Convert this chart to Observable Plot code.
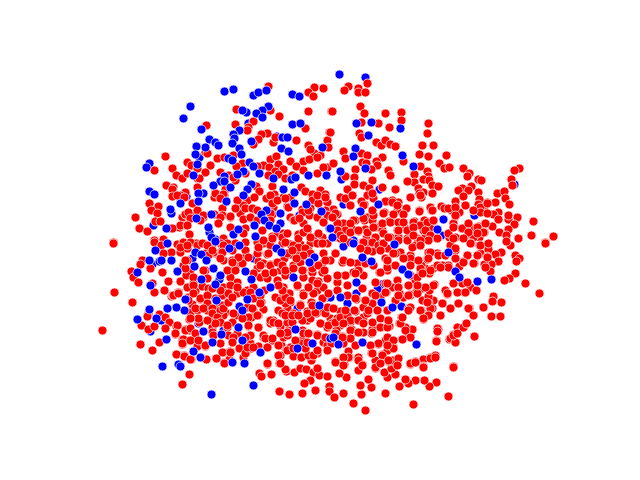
<!DOCTYPE html>
<html><head><meta charset="utf-8">
<style>html,body{margin:0;padding:0;background:#fff}svg{display:block}</style>
<script src="https://cdn.jsdelivr.net/npm/d3@7"></script>
<script src="https://cdn.jsdelivr.net/npm/@observablehq/plot@0.6"></script>
</head><body><div id="chart"></div>
<script>
const blueBehind = [[246,112],[276,136],[248,123],[199,157],[186,196],[171,213],[153,225],[280,223],[299,215],[343,204],[341,179],[379,189],[514,184],[474,215],[441,235],[353,240],[343,246],[149,163],[209,232],[215,239],[192,258],[152,264],[159,261],[253,258],[219,279],[198,323],[161,320],[150,331],[223,330],[297,308],[327,297],[178,364],[381,284],[377,289],[356,293],[347,303],[401,306],[330,297],[365,77]];
const red = [
[268,86],[314,87],[323,88],[308,92],[313,96],[236,109],[270,110],[279,116],[308,111],[331,111],[253,121],[235,124],[206,125],[248,127],[247,130],[305,128],[267,133],[261,134],[258,139],[273,142],[253,144],[296,140],[275,137],[329,132],[327,140],[308,145],[314,153],[310,149],[320,155],[328,147],[205,152],[207,153],[165,156],[217,158],[224,157],[233,155],[270,159],[276,156],[290,161],[303,161],[309,159],[317,157],[187,162],[191,165],[197,168],[210,165],[242,163],[236,166],[263,165],[257,166],[278,164],[269,167],[283,169],[275,171],[296,166],[327,167],[154,170],[172,168],[176,175],[182,178],[187,173],[205,172],[197,178],[199,178],[220,172],[228,175],[245,173],[235,180],[233,177],[268,175],[278,174],[285,178],[292,175],[303,170],[317,173],[323,167],[166,185],[173,187],[172,189],[197,187],[225,189],[256,186],[259,191],[272,186],[185,192],[172,196],[180,195],[215,193],[224,195],[214,197],[237,200],[247,200],[254,197],[274,194],[273,203],[266,198],[283,197],[290,197],[301,187],[305,191],[312,194],[320,190],[325,194],[312,200],[318,203],[327,202],[149,203],[158,206],[151,210],[157,213],[192,203],[222,208],[236,207],[243,205],[252,209],[273,207],[287,206],[310,208],[302,209],[135,217],[155,221],[160,221],[139,228],[147,231],[170,228],[179,227],[186,225],[189,234],[182,217],[185,214],[195,214],[203,217],[218,223],[214,214],[222,215],[230,217],[240,213],[243,219],[251,218],[272,214],[290,217],[293,220],[303,223],[309,215],[317,217],[323,221],[230,227],[245,228],[243,233],[262,230],[272,236],[277,233],[283,233],[298,234],[307,231],[313,237],[322,237],[113,242],[154,240],[163,239],[223,238],[272,239],
[348,86],[344,90],[358,88],[358,92],[367,83],[365,92],[360,106],[332,111],[364,113],[385,113],[401,112],[401,120],[361,122],[378,123],[389,127],[428,123],[427,133],[359,133],[361,137],[330,132],[376,142],[381,145],[385,140],[390,144],[395,146],[422,145],[433,145],[343,151],[345,158],[361,153],[367,155],[382,157],[419,154],[428,156],[446,155],[403,161],[362,162],[366,163],[376,161],[377,165],[333,163],[439,163],[444,168],[449,167],[420,166],[463,168],[469,173],[467,176],[519,168],[514,170],[355,169],[371,169],[388,170],[390,175],[427,171],[428,176],[423,179],[414,174],[414,182],[407,181],[429,180],[478,179],[481,180],[511,179],[512,185],[345,176],[354,177],[354,184],[363,185],[372,180],[369,188],[382,187],[395,189],[432,185],[438,186],[471,186],[462,188],[458,190],[468,190],[418,188],[423,192],[419,193],[432,193],[347,189],[372,193],[367,195],[463,196],[478,192],[497,193],[504,191],[410,197],[421,197],[352,195],[340,197],[346,199],[350,205],[364,204],[361,201],[373,198],[386,201],[392,200],[397,204],[398,202],[455,201],[479,199],[487,202],[495,202],[505,198],[509,204],[465,205],[478,204],[441,206],[444,208],[451,210],[430,207],[431,210],[406,208],[419,210],[473,210],[484,210],[498,212],[493,214],[455,216],[459,212],[333,209],[337,214],[332,217],[372,210],[372,215],[367,217],[355,220],[384,212],[393,214],[403,213],[397,210],[364,220],[372,220],[389,221],[398,222],[403,222],[414,221],[419,225],[424,220],[433,221],[453,223],[468,224],[484,224],[492,226],[498,219],[508,219],[508,215],[517,217],[514,224],[533,221],[461,228],[473,228],[478,226],[508,229],[337,225],[343,223],[350,223],[352,229],[358,231],[365,229],[344,231],[380,225],[375,227],[382,230],[397,230],[405,228],[412,230],[423,230],[430,228],[468,234],[484,232],[499,232],[479,237],[473,237],[506,235],[531,235],[553,236],[518,238],[449,237],[455,237],[337,237],[340,238],[366,238],[375,237],[390,237],[398,237],[407,238],[417,238],[425,237],[432,237],[437,238],[545,242],
[113,243],[154,242],[161,245],[171,252],[163,253],[142,260],[140,264],[150,268],[131,271],[133,277],[138,282],[162,272],[168,281],[152,283],[154,292],[164,290],[114,292],[132,302],[171,296],[178,292],[148,313],[147,316],[159,314],[165,317],[169,322],[141,325],[148,329],[154,326],[165,328],[176,326],[175,334],[102,330],[140,344],[152,350],[159,342],[182,339],[182,344],[189,340],[197,341],[197,346],[205,346],[176,354],[184,355],[191,359],[206,359],[216,358],[224,362],[230,351],[223,352],[232,342],[229,359],[239,348],[246,352],[243,357],[251,348],[250,343],[263,337],[272,340],[258,346],[267,347],[281,345],[286,350],[280,355],[293,356],[301,357],[309,355],[305,348],[311,360],[267,364],[279,363],[259,373],[261,376],[271,374],[286,371],[294,372],[300,368],[306,369],[313,372],[317,368],[319,375],[327,376],[189,374],[182,384],[310,380],[304,383],[329,386],[279,391],[289,394],[302,393],[315,390],[329,391],
[177,244],[183,243],[188,243],[196,243],[203,243],[212,244],[220,243],[227,243],[235,243],[245,242],[257,242],[263,243],[270,242],[282,243],[290,244],[300,244],[310,243],[320,243],[327,243],
[180,252],[187,248],[207,252],[215,253],[222,250],[232,250],[245,250],[258,253],[267,254],[290,254],[299,253],[308,250],[323,253],
[187,260],[183,265],[223,260],[232,261],[243,258],[238,263],[258,261],[263,263],[270,264],[284,258],[293,265],[300,262],[312,264],[322,263],[330,260],
[190,270],[205,270],[227,270],[233,270],[257,268],[280,270],[290,272],[303,270],[312,272],[322,272],
[180,281],[186,275],[193,283],[193,277],[207,278],[230,277],[237,282],[260,277],[267,278],[277,280],[285,275],[303,277],[312,280],[318,281],[327,278],
[172,295],[178,292],[187,287],[195,291],[202,286],[208,288],[223,287],[227,292],[230,285],[247,290],[253,287],[264,290],[283,287],[289,293],[297,286],[303,293],[317,290],[323,287],
[192,305],[200,299],[207,295],[215,298],[222,295],[228,301],[237,293],[243,292],[253,295],[261,302],[275,297],[283,295],[290,302],[300,304],[311,302],[323,298],
[190,312],[197,310],[207,310],[215,308],[222,305],[225,312],[235,315],[247,307],[253,310],[263,309],[258,315],[278,310],[287,308],[293,313],[307,311],[316,313],[323,312],
[189,319],[199,322],[214,317],[223,315],[218,322],[232,322],[251,317],[273,320],[287,317],[290,322],[307,320],[320,323],[330,318],
[185,329],[189,330],[212,327],[227,327],[248,326],[258,327],[270,323],[280,326],[288,330],[302,330],[308,333],[317,334],[327,327],
[212,333],[250,335],[237,333],[263,337],[283,337],[303,338],[287,335],[300,343],[290,347],[323,342],[327,345],[317,353],
[545,243],[510,245],[506,241],[471,243],[479,245],[488,249],[480,253],[501,252],[495,254],[515,255],[519,258],[516,261],[498,261],[487,256],[491,264],[484,264],[490,271],[474,263],[463,261],[467,255],[459,266],[515,273],[509,278],[504,280],[525,283],[539,293],[501,302],[493,296],[492,301],[483,307],[469,308],[473,315],[491,316],[500,316],[466,323],[463,327],[457,327],[453,334],[449,339],[455,342],[474,336],[436,340],[438,329],[440,315],[430,357],[435,355],[423,359],[415,361],[410,364],[423,366],[453,366],[448,396],[436,382],[429,386],[424,380],[415,380],[408,383],[405,379],[399,386],[413,404],[385,393],[365,410],[353,403],[361,394],[343,393],[334,397],[371,387],[368,379],[360,385],[346,377],[339,373],[358,370],[375,368],[362,364],[344,364],[335,361],[349,357],[358,357],[375,360],[387,377],[395,374],[384,372],[391,368],[388,361],[398,358],[397,364],[382,354],[371,353],[348,351],[370,345],[378,344],[393,347],[387,350],[385,340],[402,339],[410,337],[407,332],[412,329],[405,327],[399,323],[401,317],[389,326],[387,320],[379,327],[372,329],[371,333],[363,332],[357,332],[350,338],[342,336],[343,343],[331,343],[355,345],[358,320],[350,322],[335,320],[340,325],[336,330],[331,323],[351,329],[345,315],[355,311],[368,311],[363,317],[377,310],[387,310],[380,318],[408,308],[421,310],[432,308],[427,315],[423,319],[450,308],[458,303],[442,303],[433,300],[428,302],[422,300],[410,295],[416,291],[422,288],[428,296],[447,294],[457,292],[464,292],[470,287],[476,290],[453,283],[462,283],[467,282],[445,290],[434,284],[429,290],[415,280],[410,275],[420,273],[429,273],[433,268],[425,268],[421,265],[412,260],[410,255],[415,245],[420,245],[428,252],[427,259],[437,253],[442,265],[448,265],[437,265],[455,250],[450,245],[412,247],[400,252],[395,253],[387,248],[380,250],[378,243],[368,243],[362,242],[335,253],[342,262],[350,262],[357,263],[365,263],[372,251],[387,266],[387,270],[379,272],[375,282],[397,280],[392,287],[398,287],[385,283],[386,292],[380,297],[372,293],[362,288],[345,275],[337,276],[353,272],[359,271],[363,275],[337,282],[347,285],[347,295],[337,290],[365,300],[372,303],[356,299],[333,308],[340,311],[347,312],[395,300],[403,297],[409,294],[399,293],[417,287]
];
const redDense = [
[177,195],[184,197],[215,193],[223,194],[220,198],[237,200],[235,208],[245,208],[252,208],[250,217],[257,210],[270,195],[272,203],[277,200],[285,198],[288,207],[302,212],[308,210],[317,195],[325,197],[325,210],[327,215],[185,214],[188,212],[190,218],[180,225],[187,225],[172,228],[197,210],[203,215],[200,220],[220,217],[230,216],[218,223],[189,234],[183,242],[180,247],[190,242],[187,245],[197,245],[202,243],[207,245],[213,252],[223,245],[222,252],[220,258],[237,260],[232,260],[242,263],[238,257],[248,257],[257,253],[258,247],[263,240],[270,245],[272,238],[268,253],[282,237],[285,242],[287,233],[293,245],[298,247],[298,238],[303,232],[307,228],[310,237],[318,233],[323,222],[294,220],[299,218],[317,243],[322,243],[305,248],[310,253],[303,255],[287,253],[292,250],[296,258],[260,265],[270,265],[277,262],[282,265],[285,270],[293,268],[302,270],[312,268],[318,265],[325,260],[324,270],[227,270],[235,270],[232,262],[253,273],[265,273],[273,272],[208,255],[185,268],[185,260],[203,270],[212,250],[257,220],[270,213],[270,220],
[173,295],[178,293],[188,297],[193,285],[193,293],[200,298],[207,295],[207,303],[192,304],[195,308],[203,308],[212,308],[212,313],[220,310],[223,308],[228,302],[228,293],[220,290],[212,288],[232,297],[237,287],[250,292],[253,298],[260,295],[260,303],[252,308],[248,317],[257,315],[233,313],[242,318],[217,317],[220,322],[227,325],[215,323],[207,320],[198,318],[190,318],[177,325],[175,333],[185,330],[190,328],[195,333],[212,332],[213,335],[228,335],[233,337],[248,325],[258,327],[250,335],[245,337],[183,339],[182,343],[190,340],[198,340],[205,345],[220,343],[232,342],[222,352],[230,352],[245,353],[247,347],[253,347],[263,335],[265,338],[272,338],[267,347],[278,345],[278,355],[287,350],[293,348],[301,357],[308,355],[313,355],[305,348],[317,350],[327,350],[287,332],[280,333],[295,340],[307,342],[303,333],[308,333],[317,335],[325,337],[270,320],[273,322],[278,323],[287,322],[292,322],[302,320],[310,318],[320,323],[328,325],[282,313],[285,315],[292,315],[298,315],[307,313],[315,312],[325,313],[327,307],[312,305],[300,305],[285,303],[280,300],[285,297],[290,300],[303,295],[313,293],[322,298],[328,293],[308,287],[297,285],[282,290],[278,285],[188,300],[317,283],[285,369],[267,363],[280,363],[317,368],[216,358],[224,363],[176,354],[184,356],[190,359],
[345,198],[352,195],[350,205],[363,205],[372,193],[385,201],[392,202],[397,205],[406,208],[410,197],[420,195],[430,207],[432,210],[419,211],[383,213],[393,214],[403,214],[373,215],[372,210],[363,218],[353,220],[343,223],[350,223],[337,223],[335,213],[332,217],[345,230],[350,232],[358,230],[367,232],[373,227],[382,223],[390,222],[398,222],[403,222],[413,222],[420,225],[427,222],[433,220],[337,230],[340,235],[375,237],[383,233],[398,230],[407,230],[413,227],[425,230],[430,235],[428,240],[437,238],[448,233],[453,227],[465,227],[453,238],[462,228],[468,223],[477,227],[485,223],[483,232],[477,233],[468,232],[448,208],[455,207],[455,215],[465,205],[480,207],[487,203],[480,212],[473,210],[487,213],[470,243],[480,245],[488,243],[463,238],[363,242],[372,242],[378,245],[383,243],[388,237],[398,240],[407,240],[413,235],[420,240],[420,245],[430,252],[438,255],[445,255],[455,248],[467,255],[477,255],[487,257],[473,263],[485,267],[463,262],[455,258],[448,267],[428,258],[420,268],[410,258],[418,260],[410,265],[430,270],[440,267],[367,250],[380,250],[385,258],[393,253],[403,258],[360,248],[350,242],[343,238],[335,253],[343,260],[350,262],[358,270],[355,273],[345,275],[337,275],[380,272],[387,267],[387,260],[395,265],[373,265],[417,277],[422,273],
[333,308],[337,318],[335,322],[340,317],[347,315],[354,310],[363,307],[372,303],[365,300],[372,293],[362,288],[355,298],[345,310],[350,320],[358,320],[367,313],[368,310],[377,310],[387,310],[375,295],[385,292],[387,283],[398,287],[398,295],[408,295],[417,293],[410,307],[408,310],[420,310],[430,308],[427,302],[428,315],[423,318],[440,315],[442,303],[450,308],[458,303],[468,308],[447,293],[433,285],[425,287],[417,285],[408,285],[453,283],[457,292],[465,292],[335,333],[343,323],[350,330],[358,332],[350,338],[342,337],[372,332],[380,327],[387,327],[388,320],[400,323],[402,317],[405,330],[410,337],[387,337],[402,339],[393,340],[378,343],[370,345],[393,348],[387,345],[372,353],[382,355],[392,360],[388,360],[398,358],[348,357],[358,360],[343,357],[335,362],[343,365],[362,365],[375,367],[397,365],[380,363],[410,363],[415,362],[423,367],[430,358],[435,357],[453,367],[355,345],[372,322],[363,323],[437,328],[437,331],[450,338],[455,342],[453,335],[457,333],[463,327],[466,323],[474,336],[436,341],[483,307],[473,315]
];
const blueOnTop = [[224,91],[233,89],[253,95],[258,92],[266,90],[292,94],[299,96],[190,106],[183,118],[268,106],[262,110],[256,113],[242,110],[262,117],[201,129],[292,124],[300,123],[239,130],[233,134],[234,138],[232,143],[209,139],[215,142],[218,145],[205,147],[196,146],[251,141],[282,137],[287,137],[281,148],[288,151],[239,148],[241,154],[195,154],[228,158],[232,160],[146,167],[197,164],[249,162],[253,166],[243,171],[237,174],[259,173],[273,178],[291,179],[295,177],[308,175],[326,175],[322,147],[193,175],[224,176],[220,181],[224,181],[213,185],[230,187],[251,184],[247,189],[243,195],[283,189],[294,192],[149,191],[154,194],[203,193],[198,193],[198,201],[180,203],[226,201],[294,203],[306,204],[266,210],[280,213],[321,211],[170,209],[211,214],[196,218],[261,214],[264,220],[269,225],[254,225],[276,228],[166,228],[208,227],[233,234],[238,229],[255,236],[211,237],[329,228],
[339,74],[356,123],[371,122],[400,128],[368,135],[355,148],[353,156],[402,155],[365,168],[413,166],[340,171],[378,204],[360,211],[443,219],[437,229],[330,228],[332,237],
[167,243],[155,250],[149,260],[161,260],[171,260],[137,272],[150,285],[177,271],[194,266],[195,252],[201,254],[206,260],[215,241],[229,248],[239,245],[213,268],[220,275],[201,279],[215,284],[245,271],[251,279],[270,287],[259,292],[276,248],[281,252],[314,257],[309,262],[293,277],[247,299],[216,300],[185,299],[239,306],[242,310],[184,310],[176,307],[167,308],[149,309],[137,319],[156,318],[203,331],[221,334],[238,327],[166,339],[212,342],[242,340],[193,351],[200,357],[260,352],[232,362],[244,363],[162,366],[180,366],[253,385],[211,394],[295,329],[297,348],[312,343],[319,305],[330,338],
[353,243],[394,244],[362,257],[371,261],[448,252],[402,269],[408,274],[455,271],[459,277],[477,281],[491,279],[356,282],[340,297],[381,302],[392,307],[333,337],[338,344],[362,342],[416,344]
];
const makeRows = (pairs) => pairs.map(([x, y]) => ({x, y}));
const dots = (pairs, fill) => Plot.dot(makeRows(pairs), {x: "x", y: "y", r: 4.5, fill, stroke: "white", strokeWidth: 0.75});
const chart = Plot.plot({
  width: 640, height: 480, margin: 0,
  x: {domain: [0, 640], range: [0, 640], axis: null},
  y: {domain: [0, 480], range: [0, 480], axis: null},
  marks: [dots(blueBehind, "#0000ff"), dots(red, "#ff0000"), dots(redDense, "#ff0000"), dots(blueOnTop, "#0000ff")]
});
document.getElementById("chart").append(chart);
</script></body></html>
